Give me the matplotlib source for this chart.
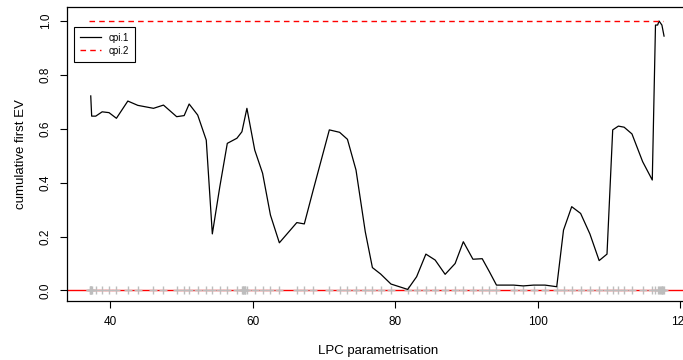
import matplotlib
matplotlib.use("Agg")
import matplotlib.pyplot as plt

plt.rcParams['font.family'] = ['Liberation Sans', 'DejaVu Sans']

# cumulative first EV along the LPC parametrisation
lpc = [37.3, 37.43, 38.0, 38.9, 39.86, 40.9, 42.5, 43.9, 46.1, 47.5, 49.35, 50.4,
       51.1, 52.3, 53.5, 54.35, 55.4, 56.45, 57.8, 58.5, 59.2, 60.3, 61.4, 62.5,
       63.75, 66.2, 67.25, 68.5, 70.76, 72.2, 73.3, 74.5, 75.8, 76.8, 77.96, 79.4,
       81.75, 83.0, 84.3, 85.6, 87.0, 88.4, 89.55, 90.9, 92.2, 93.2, 94.2, 96.6,
       97.96, 99.4, 101.0, 102.65, 103.6, 104.75, 106.0, 107.3, 108.6, 109.7,
       110.5, 111.3, 112.1, 113.2, 114.7, 116.05, 116.5, 116.8, 117.0, 117.4, 117.7]
cpi1 = [0.722, 0.647, 0.647, 0.663, 0.66, 0.639, 0.703, 0.687, 0.676, 0.688, 0.645, 0.649,
        0.692, 0.651, 0.558, 0.21, 0.385, 0.546, 0.565, 0.589, 0.676, 0.521, 0.435, 0.28,
        0.177, 0.252, 0.247, 0.373, 0.596, 0.587, 0.561, 0.447, 0.218, 0.085, 0.061, 0.024,
        0.004, 0.051, 0.135, 0.113, 0.06, 0.10, 0.181, 0.116, 0.118, 0.07, 0.02, 0.02,
        0.017, 0.02, 0.02, 0.014, 0.224, 0.311, 0.286, 0.21, 0.111, 0.135,
        0.596, 0.61, 0.606, 0.581, 0.478, 0.41, 0.985, 0.985, 1.0, 0.985, 0.944]
cpi2_x = [37.05, 117.6]
cpi2_y = [1.0, 1.0]
# extra knots where the projection points pile up
knots = [37.15, 37.25, 37.35, 58.6, 58.7, 58.8, 58.9, 59.0, 117.2, 117.3, 117.4, 117.5]

fig = plt.figure(figsize=(6.83, 3.6), dpi=100)
ax = fig.add_axes([67/683, 59/360, 622/683, 294/360])

ax.axhline(0, color='#ff0000', lw=1.0, zorder=1)
ax.plot(lpc + knots, [0]*(len(lpc)+len(knots)), ls='none', marker='+', ms=6,
        mew=1.0, color='#bdbdbd', zorder=2)
ax.plot(lpc, cpi1, color='black', lw=0.9, label='cpi.1', zorder=3)
ax.plot(cpi2_x, cpi2_y, color='#ff0000', lw=1.0, ls=(0, (4, 3)), label='cpi.2', zorder=3)

ax.set_xlim(33.97, 121.2)
ax.set_ylim(-0.039, 1.052)
ax.set_xticks([40, 60, 80, 100, 120])
ax.set_xticklabels(['40', '60', '80', '100', '120'])
ax.set_yticks([0.0, 0.2, 0.4, 0.6, 0.8, 1.0])
ax.set_yticklabels(['0.0', '0.2', '0.4', '0.6', '0.8', '1.0'], rotation=90, va='center')
ax.tick_params(labelsize=8.5, length=5, width=0.8, pad=6)
for s in ax.spines.values():
    s.set_linewidth(0.9)

ax.set_xlabel('LPC parametrisation', fontsize=9.5, labelpad=12)
ax.set_ylabel('cumulative first EV', fontsize=9.5, labelpad=9)

leg = ax.legend(loc='upper left', bbox_to_anchor=(0.0113, 0.932), fontsize=7,
                frameon=True, fancybox=False, edgecolor='black', framealpha=1,
                borderaxespad=0, handlelength=2.2, borderpad=0.6, labelspacing=0.3)
leg.get_frame().set_linewidth(0.8)

fig.savefig('out.png', dpi=100)
